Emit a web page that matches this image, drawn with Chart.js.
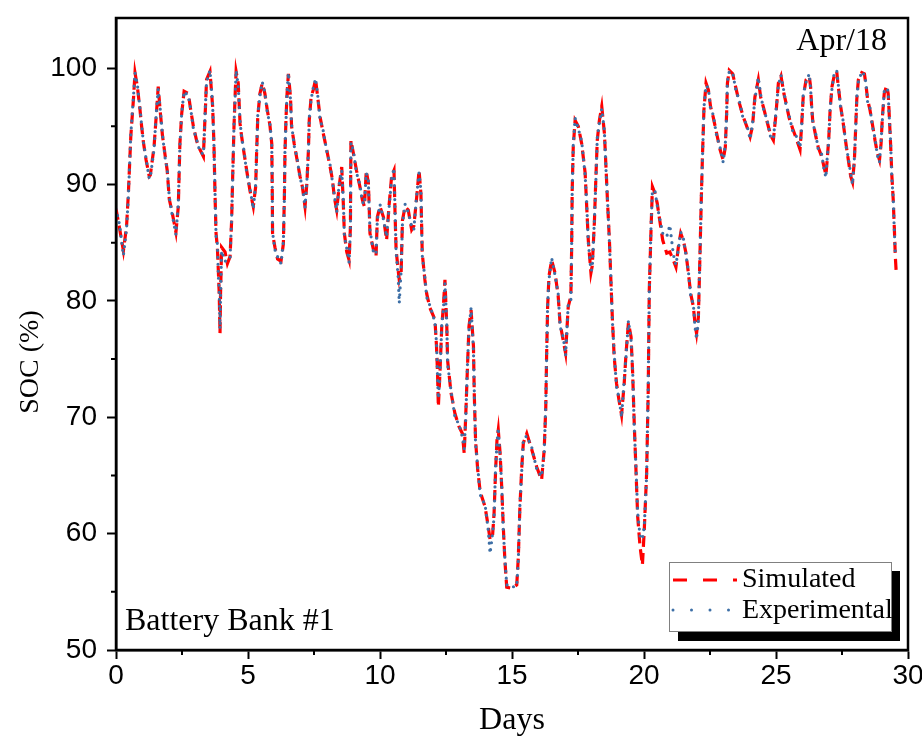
<!DOCTYPE html>
<html>
<head>
<meta charset="utf-8">
<script src="https://cdn.jsdelivr.net/npm/chart.js@4.4.1/dist/chart.umd.min.js"></script>
<style>
  html, body { margin: 0; padding: 0; background: #fff; }
  canvas { display: block; }
</style>
</head>
<body>
<canvas id="chart" width="922" height="742"></canvas>
<script>
// Days since start of the month
const days = [
  0.00, 0.13, 0.28, 0.40, 0.47, 0.56, 0.66, 0.72, 0.81, 0.91,
  0.97, 1.04, 1.14, 1.26, 1.30, 1.44, 1.54, 1.60, 1.67, 1.76,
  1.86, 1.94, 2.02, 2.11, 2.27, 2.36, 2.42, 2.49, 2.58, 2.74,
  2.83, 2.93, 3.06, 3.18, 3.31, 3.34, 3.39, 3.43, 3.56, 3.66,
  3.71, 3.75, 3.79, 3.84, 3.88, 3.91, 3.94, 3.96, 4.00, 4.13,
  4.22, 4.32, 4.38, 4.42, 4.47, 4.52, 4.55, 4.63, 4.70, 4.76,
  4.85, 4.95, 5.08, 5.20, 5.29, 5.33, 5.37, 5.45, 5.54, 5.64,
  5.73, 5.83, 5.90, 5.92, 5.93, 6.02, 6.12, 6.25, 6.34, 6.38,
  6.40, 6.44, 6.48, 6.53, 6.61, 6.65, 6.75, 6.86, 6.97, 7.06,
  7.16, 7.23, 7.29, 7.32, 7.39, 7.47, 7.56, 7.64, 7.73, 7.85,
  7.98, 8.11, 8.20, 8.27, 8.36, 8.45, 8.55, 8.61, 8.65, 8.74,
  8.83, 8.88, 8.89, 8.90, 8.99, 9.11, 9.24, 9.33, 9.41, 9.48,
  9.56, 9.59, 9.62, 9.75, 9.85, 9.90, 10.00, 10.13, 10.25, 10.34,
  10.44, 10.53, 10.57, 10.61, 10.69, 10.73, 10.80, 10.85, 10.95, 11.07,
  11.20, 11.28, 11.39, 11.48, 11.55, 11.60, 11.70, 11.77, 11.89, 12.08,
  12.14, 12.18, 12.21, 12.27, 12.34, 12.40, 12.46, 12.53, 12.56, 12.69,
  12.84, 12.99, 13.12, 13.19, 13.25, 13.31, 13.37, 13.45, 13.54, 13.57,
  13.62, 13.70, 13.79, 13.85, 13.98, 14.10, 14.17, 14.26, 14.32, 14.38,
  14.43, 14.48, 14.55, 14.61, 14.67, 14.73, 14.80, 14.99, 15.18, 15.24,
  15.30, 15.37, 15.43, 15.56, 15.75, 15.94, 16.12, 16.22, 16.28, 16.31,
  16.35, 16.40, 16.50, 16.63, 16.75, 16.82, 16.94, 17.03, 17.13, 17.23,
  17.26, 17.28, 17.32, 17.39, 17.51, 17.64, 17.77, 17.83, 17.89, 17.99,
  18.04, 18.12, 18.17, 18.23, 18.31, 18.40, 18.50, 18.56, 18.62, 18.69,
  18.75, 18.80, 18.87, 18.96, 19.05, 19.15, 19.25, 19.32, 19.41, 19.51,
  19.57, 19.63, 19.70, 19.76, 19.85, 19.94, 20.01, 20.10, 20.16, 20.20,
  20.27, 20.32, 20.42, 20.50, 20.61, 20.71, 20.86, 20.98, 21.11, 21.21,
  21.30, 21.39, 21.49, 21.59, 21.68, 21.77, 21.87, 21.93, 21.99, 22.06,
  22.09, 22.13, 22.17, 22.21, 22.27, 22.35, 22.44, 22.52, 22.62, 22.75,
  22.88, 23.00, 23.08, 23.13, 23.16, 23.23, 23.36, 23.48, 23.61, 23.76,
  23.89, 24.02, 24.11, 24.20, 24.33, 24.42, 24.55, 24.65, 24.80, 24.90,
  25.00, 25.09, 25.19, 25.30, 25.38, 25.50, 25.63, 25.76, 25.91, 25.97,
  26.03, 26.14, 26.26, 26.31, 26.35, 26.39, 26.51, 26.60, 26.73, 26.82,
  26.89, 26.94, 27.00, 27.05, 27.12, 27.20, 27.30, 27.36, 27.45, 27.55,
  27.65, 27.74, 27.83, 27.90, 27.97, 28.02, 28.06, 28.12, 28.25, 28.35,
  28.41, 28.47, 28.56, 28.65, 28.75, 28.84, 28.92, 28.98, 29.03, 29.10,
  29.19, 29.25, 29.28, 29.34, 29.39, 29.44, 29.48, 29.52, 29.55
];

// SOC (%) - simulated
const simulated = [
  87.9, 86.3, 84.3, 86.4, 89.3, 94.1, 97.3, 99.6, 98.4, 96.4,
  95.0, 93.6, 92.1, 90.7, 90.8, 93.2, 96.4, 98.4, 96.4, 94.2,
  92.5, 91.2, 88.7, 87.8, 85.9, 88.1, 93.5, 96.1, 98.0, 97.8,
  96.4, 95.0, 93.7, 93.0, 92.4, 94.1, 96.7, 99.0, 99.7, 96.7,
  93.5, 89.2, 85.8, 84.6, 82.4, 80.6, 77.2, 80.6, 84.6, 84.2,
  83.2, 83.8, 86.9, 90.7, 95.0, 98.1, 99.7, 98.7, 95.2, 94.1,
  92.7, 91.2, 89.4, 88.1, 89.8, 93.0, 95.8, 97.8, 98.7, 97.8,
  96.4, 95.1, 93.5, 89.2, 85.8, 84.6, 83.6, 83.4, 84.9, 89.2,
  92.7, 95.7, 97.8, 99.5, 97.5, 95.0, 93.5, 92.1, 90.7, 89.8,
  88.1, 90.1, 93.0, 95.5, 97.5, 98.1, 99.0, 97.5, 95.8, 94.4,
  93.0, 91.5, 90.4, 88.9, 87.8, 89.8, 91.5, 88.4, 85.8, 84.2,
  83.5, 86.4, 90.7, 93.8, 92.7, 91.2, 89.8, 88.7, 88.1, 91.2,
  90.1, 88.1, 85.8, 84.4, 83.8, 87.2, 88.1, 87.2, 85.2, 88.1,
  90.7, 91.2, 87.5, 84.4, 82.6, 81.8, 82.4, 86.9, 88.1, 87.8,
  86.1, 86.4, 88.9, 91.2, 89.2, 84.1, 81.8, 80.6, 79.4, 78.4,
  76.1, 73.8, 70.9, 73.8, 77.8, 79.5, 81.8, 77.8, 74.9, 72.1,
  70.3, 69.2, 68.6, 66.9, 70.3, 74.1, 77.8, 79.2, 76.1, 72.1,
  68.0, 65.5, 63.7, 63.2, 62.3, 60.6, 59.5, 59.7, 61.7, 65.5,
  68.0, 68.9, 66.9, 64.0, 60.6, 57.7, 55.4, 55.3, 55.6, 58.0,
  62.3, 65.7, 67.8, 68.6, 67.2, 65.7, 64.6, 67.2, 70.9, 75.2,
  79.5, 82.1, 83.5, 82.4, 80.4, 78.1, 76.6, 75.5, 79.5, 80.4,
  84.6, 89.5, 93.2, 95.5, 95.0, 93.5, 91.0, 88.1, 85.2, 82.4,
  83.0, 86.7, 90.1, 93.8, 95.5, 96.7, 94.4, 91.5, 88.4, 85.2,
  81.5, 78.6, 75.2, 72.9, 71.5, 70.2, 72.9, 75.5, 78.1, 76.9,
  73.8, 69.5, 65.2, 61.5, 58.9, 57.3, 60.3, 65.2, 72.3, 80.9,
  86.4, 89.8, 89.2, 88.4, 86.7, 85.2, 84.1, 84.2, 83.5, 82.9,
  84.6, 85.8, 85.2, 84.1, 82.4, 80.6, 79.5, 78.1, 77.2, 78.6,
  81.2, 84.9, 88.7, 92.1, 96.4, 98.7, 98.1, 96.7, 95.8, 94.4,
  93.0, 92.1, 93.2, 96.1, 98.7, 99.8, 99.5, 98.3, 97.0, 95.8,
  95.0, 94.1, 95.0, 97.5, 99.0, 97.5, 96.4, 95.5, 94.2, 93.8,
  96.1, 98.7, 99.3, 97.8, 97.0, 95.7, 94.8, 94.0, 93.0, 95.0,
  97.5, 99.0, 99.3, 98.4, 96.7, 95.5, 94.1, 93.2, 92.4, 91.5,
  90.8, 92.1, 94.0, 96.4, 98.4, 99.3, 99.7, 98.4, 96.7, 95.2,
  93.5, 92.1, 90.7, 90.2, 92.1, 95.0, 97.3, 99.0, 99.6, 99.5,
  98.5, 97.3, 96.4, 95.2, 93.8, 92.7, 92.1, 93.5, 95.8, 97.8,
  98.5, 97.8, 96.4, 93.5, 90.7, 88.7, 86.4, 83.8, 82.6
];

// SOC (%) - experimental
const experimental = [
  87.9, 86.6, 83.9, 86.2, 89.0, 94.3, 97.5, 99.6, 98.6, 96.5,
  95.1, 93.6, 92.2, 90.5, 90.6, 93.0, 96.6, 98.2, 96.6, 94.3,
  92.3, 91.3, 88.9, 87.6, 85.7, 88.3, 93.3, 96.2, 98.0, 97.6,
  96.5, 94.8, 93.8, 92.8, 92.6, 94.0, 96.9, 98.8, 99.8, 96.9,
  93.4, 89.5, 85.6, 84.9, 82.0, 81.0, 77.6, 80.3, 84.3, 83.4,
  83.5, 83.6, 87.1, 90.5, 95.2, 97.9, 99.8, 98.5, 95.4, 94.0,
  92.9, 91.0, 89.6, 87.9, 90.0, 92.8, 96.0, 97.6, 98.8, 97.9,
  96.2, 95.2, 93.4, 89.5, 85.9, 84.4, 83.8, 83.2, 85.1, 89.0,
  92.9, 95.5, 98.0, 99.6, 97.3, 95.2, 93.3, 92.3, 90.5, 90.0,
  88.0, 90.3, 92.8, 95.7, 97.3, 98.3, 99.1, 97.7, 95.6, 94.6,
  92.9, 91.7, 90.2, 89.1, 87.6, 90.0, 91.2, 88.7, 85.6, 84.5,
  83.3, 86.1, 90.9, 93.6, 92.9, 91.0, 90.0, 88.5, 88.3, 91.0,
  90.3, 87.9, 86.1, 84.2, 84.0, 87.0, 88.3, 87.0, 85.5, 87.9,
  90.5, 91.4, 87.8, 84.2, 82.0, 79.8, 82.6, 86.6, 88.3, 87.6,
  86.4, 86.1, 89.1, 91.0, 89.5, 83.9, 82.0, 80.3, 79.6, 78.2,
  76.4, 73.5, 71.6, 73.5, 78.0, 79.2, 81.5, 78.1, 74.6, 72.3,
  70.0, 69.4, 68.3, 67.3, 70.0, 74.4, 77.5, 79.4, 75.8, 72.4,
  67.7, 65.8, 63.4, 63.0, 62.5, 60.3, 58.3, 59.9, 61.4, 65.8,
  67.7, 69.1, 66.6, 64.3, 60.3, 57.9, 55.6, 55.4, 55.5, 57.7,
  62.5, 65.4, 68.1, 68.4, 67.4, 65.5, 64.9, 66.9, 71.2, 74.9,
  79.7, 81.8, 83.7, 82.2, 80.6, 77.8, 76.9, 75.3, 79.7, 80.1,
  84.9, 89.2, 93.4, 95.7, 94.8, 93.7, 90.8, 88.4, 85.0, 82.6,
  82.7, 86.9, 89.8, 94.0, 95.3, 96.5, 94.6, 91.3, 88.6, 85.0,
  81.8, 78.4, 75.5, 72.6, 71.7, 70.0, 73.2, 75.2, 78.3, 76.6,
  74.1, 69.2, 65.5, 61.8, 59.8, 59.5, 60.6, 65.0, 72.6, 80.6,
  86.7, 89.5, 89.4, 88.2, 86.9, 85.8, 85.5, 86.5, 84.0, 83.1,
  84.4, 85.9, 85.4, 83.9, 82.6, 80.4, 79.7, 77.8, 76.7, 78.3,
  81.4, 84.6, 88.9, 91.8, 96.6, 98.5, 98.3, 96.5, 96.0, 94.2,
  93.2, 91.9, 93.5, 95.9, 98.9, 99.7, 99.6, 98.1, 97.2, 95.6,
  95.2, 93.9, 95.2, 97.3, 99.2, 97.7, 96.2, 95.7, 94.0, 93.9,
  96.3, 98.5, 99.4, 98.0, 96.8, 95.9, 94.6, 94.2, 93.2, 94.8,
  97.7, 98.8, 99.5, 98.2, 96.9, 95.3, 94.3, 93.0, 92.6, 91.3,
  90.6, 92.3, 93.8, 96.6, 98.2, 99.5, 99.8, 98.6, 96.5, 95.4,
  93.3, 92.3, 90.9, 90.0, 92.3, 94.8, 97.5, 98.8, 99.7, 99.4,
  98.7, 97.1, 96.6, 95.0, 94.0, 92.5, 91.9, 93.7, 95.6, 98.0,
  98.3, 98.0, 96.2, 93.8, 90.4, 88.9, 86.1, 84.0, 83.9
];

const xMinorTicks = [2.5, 7.5, 12.5, 17.5, 22.5, 27.5];
const yMinorTicks = [55, 65, 75, 85, 95];

const SERIF = '"Liberation Serif", "Times New Roman", serif';
const SANS = '"Liberation Sans", Arial, sans-serif';

// frame, minor ticks, y title, text labels and the shadowed legend box
const decorations = {
    id: 'decorations',
    afterDraw(chart) {
        const { ctx, chartArea: a, scales: { x, y } } = chart;
        ctx.save();

        ctx.strokeStyle = '#000';
        ctx.lineWidth = 2.5;
        ctx.strokeRect(a.left, a.top, a.right - a.left, a.bottom - a.top);

        ctx.lineWidth = 2;
        ctx.beginPath();
        xMinorTicks.forEach((v) => {
            const px = x.getPixelForValue(v);
            ctx.moveTo(px, a.bottom);
            ctx.lineTo(px, a.bottom + 5);
        });
        yMinorTicks.forEach((v) => {
            const py = y.getPixelForValue(v);
            ctx.moveTo(a.left, py);
            ctx.lineTo(a.left - 5, py);
        });
        ctx.stroke();

        ctx.fillStyle = '#000';

        // y axis title
        ctx.save();
        ctx.translate(31, 362);
        ctx.rotate(-Math.PI / 2);
        ctx.font = '28px ' + SERIF;
        ctx.textAlign = 'center';
        ctx.textBaseline = 'middle';
        ctx.fillText('SOC (%)', 0, 0);
        ctx.restore();

        ctx.font = '32px ' + SERIF;
        ctx.textBaseline = 'alphabetic';
        ctx.textAlign = 'right';
        ctx.fillText('Apr/18', 887, 50);
        ctx.textAlign = 'left';
        ctx.fillText('Battery Bank #1', 125, 630);

        // legend
        ctx.fillStyle = '#000';
        ctx.fillRect(678, 571, 222, 70);
        ctx.fillStyle = '#fff';
        ctx.fillRect(669, 562, 223, 70);
        ctx.strokeStyle = '#808080';
        ctx.lineWidth = 1;
        ctx.strokeRect(669.5, 562.5, 222, 69);

        ctx.lineWidth = 3;
        ctx.strokeStyle = '#ff0000';
        ctx.setLineDash([14, 16]);
        ctx.beginPath();
        ctx.moveTo(673, 580);
        ctx.lineTo(737, 580);
        ctx.stroke();

        ctx.strokeStyle = '#3d6fa6';
        ctx.lineCap = 'round';
        ctx.setLineDash([0, 18.5]);
        ctx.beginPath();
        ctx.moveTo(673, 610);
        ctx.lineTo(730, 610);
        ctx.stroke();
        ctx.setLineDash([]);

        ctx.fillStyle = '#000';
        ctx.font = '28px ' + SERIF;
        ctx.textBaseline = 'middle';
        ctx.fillText('Simulated', 742, 580);
        ctx.fillText('Experimental', 742, 611);

        ctx.restore();
    }
};

new Chart(document.getElementById('chart'), {
    type: 'line',
    data: {
        datasets: [
            {
                label: 'Simulated',
                data: days.map((d, i) => ({ x: d, y: simulated[i] })),
                borderColor: '#ff0000',
                borderWidth: 3.2,
                borderDash: [11, 6],
                pointRadius: 0,
                tension: 0,
                order: 1
            },
            {
                label: 'Experimental',
                data: days.map((d, i) => ({ x: d, y: experimental[i] })),
                borderColor: '#3d6fa6',
                borderWidth: 3.2,
                borderDash: [0, 7],
                borderCapStyle: 'round',
                pointRadius: 0,
                tension: 0,
                order: 0
            }
        ]
    },
    options: {
        responsive: false,
        animation: false,
        layout: { padding: { top: 18, right: 14, left: 0, bottom: 0 } },
        plugins: {
            legend: { display: false },
            tooltip: { enabled: false }
        },
        scales: {
            x: {
                type: 'linear',
                min: 0,
                max: 30,
                border: { color: '#000', width: 2.5 },
                grid: { drawOnChartArea: false, tickLength: 9, tickWidth: 2, tickColor: '#000' },
                ticks: {
                    stepSize: 5,
                    autoSkip: false,
                    maxRotation: 0,
                    includeBounds: false,
                    padding: 0,
                    color: '#000',
                    font: { family: SANS, size: 28 }
                },
                title: {
                    display: true,
                    text: 'Days',
                    color: '#000',
                    font: { family: SERIF, size: 32 },
                    padding: { top: 0, bottom: 2 }
                },
                afterFit: (scale) => {
                    scale.height = 92;
                    scale.paddingLeft = 0;
                    scale.paddingRight = 0;
                }
            },
            y: {
                type: 'linear',
                min: 50,
                max: 104.3,
                border: { color: '#000', width: 2.5 },
                grid: { drawOnChartArea: false, tickLength: 9, tickWidth: 2, tickColor: '#000' },
                ticks: {
                    stepSize: 10,
                    includeBounds: false,
                    padding: 10,
                    color: '#000',
                    font: { family: SANS, size: 28 }
                },
                afterFit: (scale) => {
                    scale.width = 116;
                    scale.paddingTop = 0;
                    scale.paddingBottom = 0;
                }
            }
        }
    },
    plugins: [decorations]
});
</script>
</body>
</html>
